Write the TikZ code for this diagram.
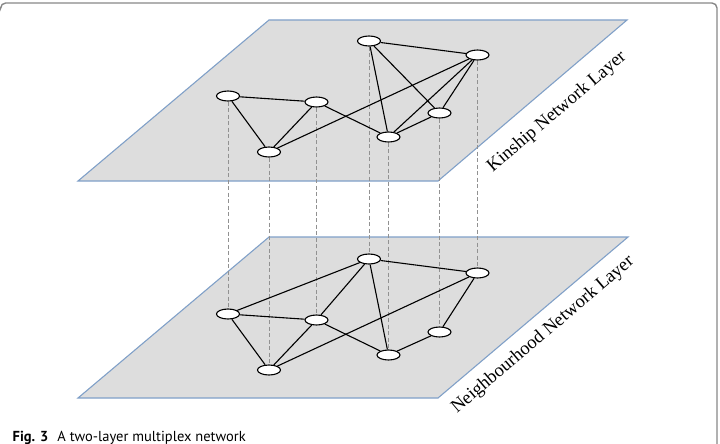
\documentclass[tikz,border=0pt]{standalone}
\usepackage{fontspec}
\setmainfont{Liberation Serif}
\newfontfamily\captionfont{PT Sans}
\usetikzlibrary{shapes.geometric}

\definecolor{planefill}{RGB}{221,221,221}
\definecolor{planeedge}{RGB}{128,160,200}
\definecolor{linkgray}{RGB}{145,145,145}
\definecolor{framegray}{RGB}{135,135,135}

\pgfdeclarelayer{planes}
\pgfdeclarelayer{links}
\pgfsetlayers{planes,links,main}

\tikzset{
  plane/.style={fill=planefill, draw=planeedge, line width=1.1pt, line join=miter},
  actor/.style={ellipse, draw=black, fill=white, line width=1.1pt,
                minimum width=23pt, minimum height=10pt, inner sep=0pt},
  tie/.style={draw=black, line width=1.1pt},
  interlink/.style={draw=linkgray, line width=0.9pt, dash pattern=on 4pt off 2.5pt},
  layerlabel/.style={font=\fontsize{18.5}{20}\selectfont, rotate=40.4, inner sep=0pt},
}

\begin{document}
\begin{tikzpicture}[x=1pt, y=-1pt]
\useasboundingbox (0,0) rectangle (720,444);

% frame around the figure
\draw[framegray, line width=1.4pt, rounded corners=5pt] (0.7,7) |- (717,3) -- (717,444);

% the two layers
\begin{pgfonlayer}{planes}
\draw[plane] (78,181) -- (438,181) -- (627,20) -- (269,20) -- cycle;
\draw[plane] (78,398) -- (438,398) -- (628,237) -- (269,237) -- cycle;
\end{pgfonlayer}

% kinship layer actors
\node[actor] (k1) at (228,96) {};
\node[actor] (k2) at (316.5,102) {};
\node[actor] (k3) at (269,152) {};
\node[actor] (k4) at (369,41) {};
\node[actor] (k5) at (477.5,55) {};
\node[actor] (k6) at (439.5,113) {};
\node[actor] (k7) at (388.5,137) {};

% neighbourhood layer actors
\node[actor] (n1) at (228,314) {};
\node[actor] (n2) at (316.5,320) {};
\node[actor] (n3) at (269,370) {};
\node[actor] (n4) at (369,259) {};
\node[actor] (n5) at (477.5,273) {};
\node[actor] (n6) at (439.5,332) {};
\node[actor] (n7) at (388.5,355) {};

\begin{pgfonlayer}{links}
% same actor across layers
\foreach \i in {1,...,7} {
  \path[interlink] (k\i) -- (n\i);
}

% kinship ties
\foreach \a/\b in {1/2,1/3,2/3,2/7,3/5,4/5,4/7,4/6,5/7,5/6,7/6} {
  \path[tie] (k\a) -- (k\b);
}

% neighbourhood ties
\foreach \a/\b in {1/4,1/2,1/3,2/3,2/4,2/7,3/5,4/5,4/7,5/6,7/6} {
  \path[tie] (n\a) -- (n\b);
}
\end{pgfonlayer}

% layer names
\node[layerlabel] (klabel) at (557,112) {Kinship Network Layer};
\node[layerlabel] (nlabel) at (543,335) {Neighbourhood Network Layer};

% caption
\node[anchor=base west, inner sep=0pt, font=\captionfont\fontsize{14.5}{16}\selectfont] (cap) at (12.5,441)
  {\textbf{Fig. 3}\hspace{9pt}A two-layer multiplex network};
\end{tikzpicture}
\end{document}
